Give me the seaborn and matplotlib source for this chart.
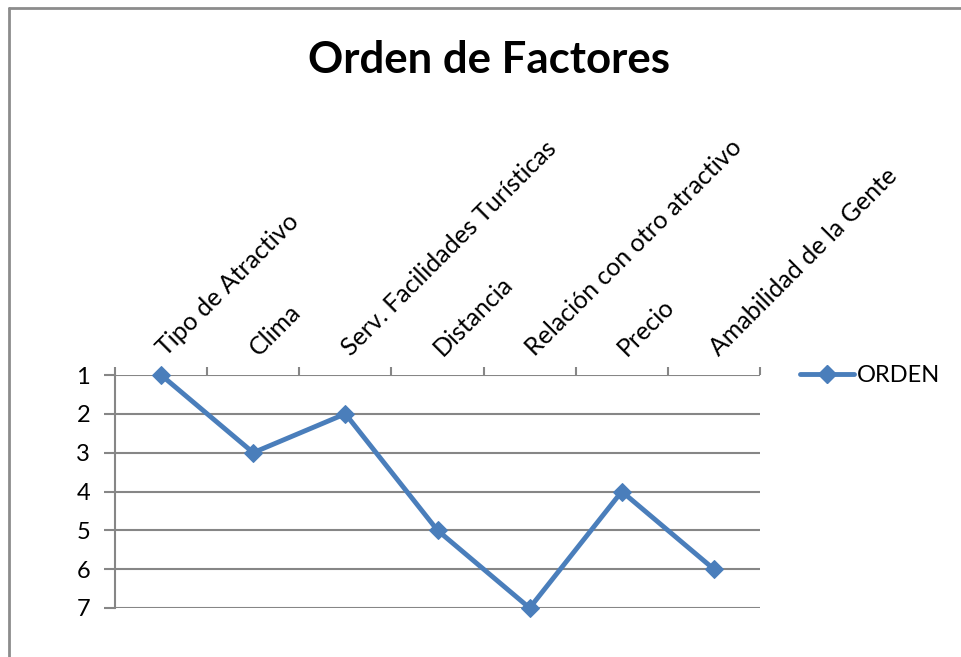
import matplotlib
matplotlib.use("Agg")
import matplotlib.pyplot as plt
import matplotlib.transforms as mtrans
import seaborn as sns
import pandas as pd
from matplotlib.lines import Line2D

categories = ["Tipo de Atractivo", "Clima", "Serv. Facilidades Turísticas", "Distancia",
              "Relación con otro atractivo", "Precio", "Amabilidad de la Gente"]
orden = [1, 3, 2, 5, 7, 4, 6]
yticks = [1, 2, 3, 4, 5, 6, 7]
series_name = "ORDEN"

sns.set_theme(style="white")
plt.rcParams['font.family'] = ['Lato', 'DejaVu Sans']
plt.rcParams['text.color'] = 'black'
plt.rcParams['xtick.color'] = 'black'
plt.rcParams['ytick.color'] = 'black'

color = "#4A7EBB"
grid_c = "#868686"

fig = plt.figure(figsize=(9.61, 6.57), dpi=100)
ax = fig.add_axes([115/961, 1-608/657, (760-115)/961, (608-375)/657])

df = pd.DataFrame({"x": range(len(categories)), "y": orden})
sns.lineplot(data=df, x="x", y="y", ax=ax, color=color, linewidth=3.5,
             marker="D", markersize=9.5, markeredgecolor=color, legend=False,
             clip_on=False, zorder=5)

ax.set_xlim(-0.5, len(categories)-0.5)
ax.set_ylim(7, 1)
ax.set_yticks(yticks)
ax.set_yticklabels([str(v) for v in yticks], fontsize=17)
for v in yticks:
    ax.axhline(v, color=grid_c, lw=1.5, zorder=0)

ax.xaxis.tick_top()
ax.set_xticks(range(len(categories)))
ax.set_xticklabels(categories, rotation=45, ha="left", va="bottom",
                   rotation_mode="anchor", fontsize=18)
ax.tick_params(axis="x", length=0, pad=7, labelcolor="black")
ax.set_xticks([i - 0.5 for i in range(len(categories)+1)], minor=True)
ax.tick_params(axis="x", which="minor", top=True, length=6, width=1.5, color=grid_c)
ax.tick_params(axis="y", left=True, length=8, width=1.5, color=grid_c, pad=10,
               labelcolor="black")
ax.set_xlabel("")
ax.set_ylabel("")

offset = mtrans.ScaledTranslation(8/100, 5/100, fig.dpi_scale_trans)
for lbl in ax.get_xticklabels():
    lbl.set_transform(lbl.get_transform() + offset)

for s in ["right", "bottom", "top"]:
    ax.spines[s].set_visible(False)
ax.spines["left"].set_color(grid_c)
ax.spines["left"].set_linewidth(1.5)

fig.text(489/961, 1-60/657, "Orden de Factores", ha="center", va="center",
         fontsize=31.5, fontweight="bold", color="black")

handle = Line2D([], [], color=color, lw=3.5, marker="D", markersize=9.5)
fig.legend([handle], [series_name], loc="center left",
           bbox_to_anchor=(800/961, 1-376/657), frameon=False, fontsize=17,
           handlelength=2.3, handletextpad=0.1, borderaxespad=0, borderpad=0,
           labelcolor="black")

fig.add_artist(Line2D([9/961, 9/961], [0, 1-8/657], color="#8c8c8c", lw=2,
                      transform=fig.transFigure))
fig.add_artist(Line2D([9/961, 1], [1-8/657, 1-8/657], color="#8c8c8c", lw=2,
                      transform=fig.transFigure))

fig.savefig("out.png", dpi=100)
